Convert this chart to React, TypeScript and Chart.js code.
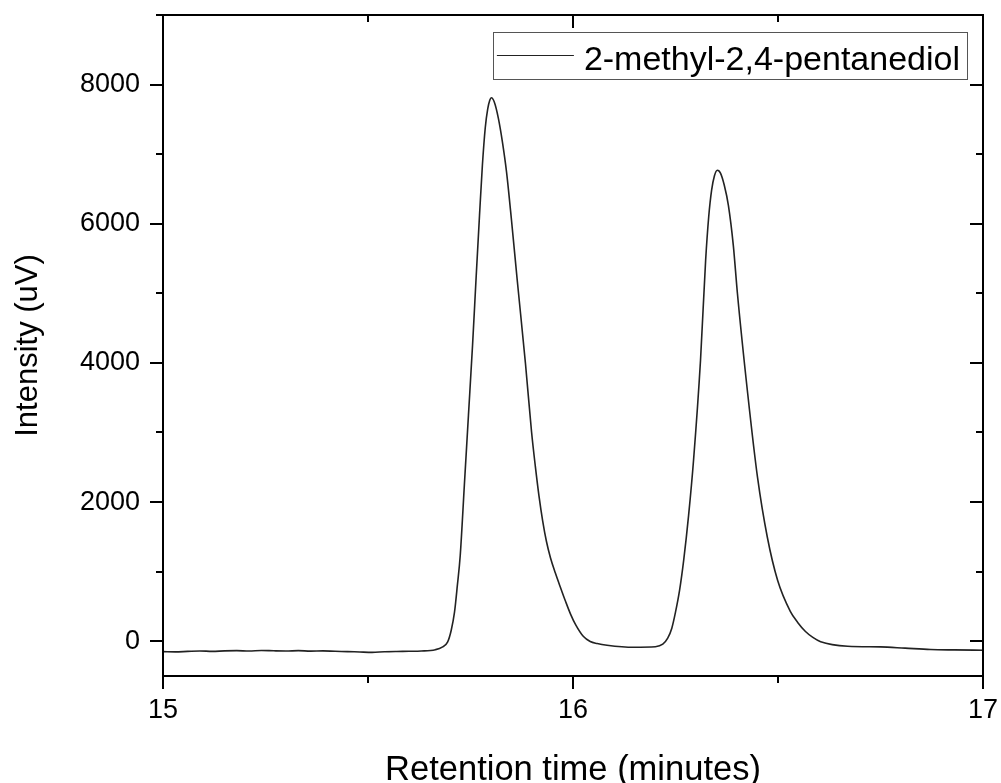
import { useEffect, useRef } from "react";
import { Chart, registerables } from "chart.js";

Chart.register(...registerables);

const SERIES_LABEL = "2-methyl-2,4-pentanediol";
const X_TITLE = "Retention time (minutes)";
const Y_TITLE = "Intensity (uV)";

const TIME = [
  15.0, 15.03, 15.06, 15.09, 15.12, 15.15, 15.18, 15.21, 15.24, 15.27, 15.3, 15.33, 15.36, 15.39,
  15.42, 15.45, 15.48, 15.51, 15.54, 15.57, 15.6, 15.63, 15.664, 15.681, 15.694, 15.703, 15.711,
  15.718, 15.725, 15.735, 15.745, 15.755, 15.764, 15.772, 15.779, 15.786, 15.792, 15.797, 15.801,
  15.808, 15.818, 15.828, 15.838, 15.85, 15.864, 15.884, 15.899, 15.908, 15.917, 15.926, 15.935,
  15.945, 15.957, 15.969, 15.982, 15.994, 16.007, 16.025, 16.042, 16.059, 16.083, 16.148, 16.201,
  16.219, 16.231, 16.241, 16.25, 16.26, 16.27, 16.282, 16.294, 16.311, 16.3235, 16.331, 16.338,
  16.345, 16.352, 16.36, 16.369, 16.379, 16.391, 16.401, 16.426, 16.45, 16.474, 16.499, 16.53,
  16.548, 16.567, 16.585, 16.604, 16.67, 16.75, 16.81, 16.872, 16.93, 17.0,
];

const INTENSITY = [
  -150, -153, -146, -140, -146, -139, -136, -141, -133, -138, -141, -136, -142, -139,
  -145, -149, -155, -160, -151, -147, -145, -141, -122, -86, -14, 158, 417,
  805, 1236, 2242, 3248, 4253, 5259, 6121, 6840, 7380, 7650, 7775, 7810,
  7750, 7515, 7170, 6739, 6050, 5188, 3995, 3003, 2520, 2090, 1730, 1440,
  1200, 980, 780, 570, 390, 230, 70, -5, -33, -57, -86, -79,
  -43, 43, 187, 417, 733, 1164, 1811, 2601, 4038, 5475, 6100, 6480,
  6690, 6768, 6725, 6553, 6265, 5690, 5001, 3564, 2357, 1494, 877, 430,
  270, 140, 55, -7, -72, -82, -100, -119, -125, -130,
];

const X_MAJOR = [15, 16, 17];
const X_MINOR = [15.5, 16.5];
const Y_MAJOR = [0, 2000, 4000, 6000, 8000];
const Y_MINOR = [1000, 3000, 5000, 7000, 9000];

const FONT = "'Liberation Sans', Arial, sans-serif";

const framePlugin = {
  id: "frame",
  afterDraw(chart: any) {
    const { ctx, chartArea: a, scales } = chart;
    const xs = scales.x;
    const ys = scales.y;
    const MAJ = 13;
    const MIN = 7;
    ctx.save();
    ctx.strokeStyle = "#000";
    ctx.lineWidth = 2;
    ctx.beginPath();
    ctx.rect(a.left, a.top, a.right - a.left, a.bottom - a.top);
    const xt = (v: number, len: number) => {
      const px = Math.round(xs.getPixelForValue(v));
      ctx.moveTo(px, a.bottom);
      ctx.lineTo(px, a.bottom + len);
      ctx.moveTo(px, a.top);
      ctx.lineTo(px, a.top + len);
    };
    const yt = (v: number, len: number) => {
      const py = Math.round(ys.getPixelForValue(v));
      ctx.moveTo(a.left, py);
      ctx.lineTo(a.left - len, py);
      ctx.moveTo(a.right, py);
      ctx.lineTo(a.right - len, py);
    };
    X_MAJOR.forEach((v) => xt(v, MAJ));
    X_MINOR.forEach((v) => xt(v, MIN));
    Y_MAJOR.forEach((v) => yt(v, MAJ));
    Y_MINOR.forEach((v) => yt(v, MIN));
    ctx.stroke();

    // legend
    const label = chart.data.datasets[0].label as string;
    ctx.font = `34px ${FONT}`;
    const tw = ctx.measureText(label).width;
    const boxRight = a.right - 16;
    const boxTop = a.top + 17;
    const boxH = 47;
    const padL = 4;
    const lineLen = 77;
    const gap = 10;
    const padR = 7;
    const boxW = padL + lineLen + gap + tw + padR;
    const boxLeft = boxRight - boxW;
    ctx.fillStyle = "#fff";
    ctx.fillRect(boxLeft, boxTop, boxW, boxH);
    ctx.lineWidth = 1;
    ctx.strokeStyle = "#555";
    ctx.strokeRect(Math.round(boxLeft) + 0.5, boxTop + 0.5, Math.round(boxW), boxH);
    ctx.strokeStyle = "#222";
    ctx.beginPath();
    ctx.moveTo(boxLeft + padL, boxTop + 23.5);
    ctx.lineTo(boxLeft + padL + lineLen, boxTop + 23.5);
    ctx.stroke();
    ctx.fillStyle = "#000";
    ctx.textBaseline = "alphabetic";
    ctx.textAlign = "left";
    ctx.fillText(label, boxLeft + padL + lineLen + gap, boxTop + 38);
    ctx.restore();
  },
};

export default function App() {
  const ref = useRef<HTMLCanvasElement>(null);

  useEffect(() => {
    if (!ref.current) return;
    const points = TIME.map((t, i) => ({ x: t, y: INTENSITY[i] }));
    const chart = new Chart(ref.current, {
      type: "line",
      data: {
        datasets: [
          {
            label: SERIES_LABEL,
            data: points,
            borderColor: "#222",
            borderWidth: 1.6,
            pointRadius: 0,
            fill: false,
            cubicInterpolationMode: "monotone",
          },
        ],
      },
      options: {
        animation: false,
        responsive: false,
        devicePixelRatio: 1,
        layout: { padding: { top: 15, right: 18, left: 0, bottom: 0 } },
        plugins: { legend: { display: false }, tooltip: { enabled: false } },
        scales: {
          x: {
            type: "linear",
            min: 15,
            max: 17,
            afterBuildTicks: (s: any) => {
              s.ticks = X_MAJOR.map((v) => ({ value: v }));
            },
            afterFit: (s: any) => {
              s.height = 107;
              s.paddingLeft = 0;
              s.paddingRight = 0;
            },
            grid: { display: false, drawTicks: false },
            border: { display: false },
            ticks: {
              font: { family: FONT, size: 27 },
              color: "#000",
              padding: 18,
              maxRotation: 0,
              autoSkip: false,
              callback: (v: any) => String(v),
            },
            title: {
              display: true,
              text: X_TITLE,
              color: "#000",
              font: { family: FONT, size: 34.5, lineHeight: 0.75 },
              padding: { top: 0, bottom: 0 },
            },
          },
          y: {
            type: "linear",
            min: -500,
            max: 9000,
            afterBuildTicks: (s: any) => {
              s.ticks = Y_MAJOR.map((v) => ({ value: v }));
            },
            afterFit: (s: any) => {
              s.width = 163;
              s.paddingTop = 0;
              s.paddingBottom = 0;
            },
            grid: { display: false, drawTicks: false },
            border: { display: false },
            ticks: {
              font: { family: FONT, size: 27 },
              color: "#000",
              padding: 23,
              autoSkip: false,
              callback: (v: any) => String(v),
            },
            title: {
              display: true,
              text: Y_TITLE,
              color: "#000",
              font: { family: FONT, size: 31, lineHeight: 1.2 },
              padding: { top: 10, bottom: 0 },
            },
          },
        },
      },
      plugins: [framePlugin],
    } as any);
    return () => chart.destroy();
  }, []);

  return (
    <div style={{ position: "fixed", left: 0, top: 0, width: 1001, height: 783, background: "#fff" }}>
      <canvas ref={ref} width={1001} height={783} style={{ display: "block" }} />
    </div>
  );
}
